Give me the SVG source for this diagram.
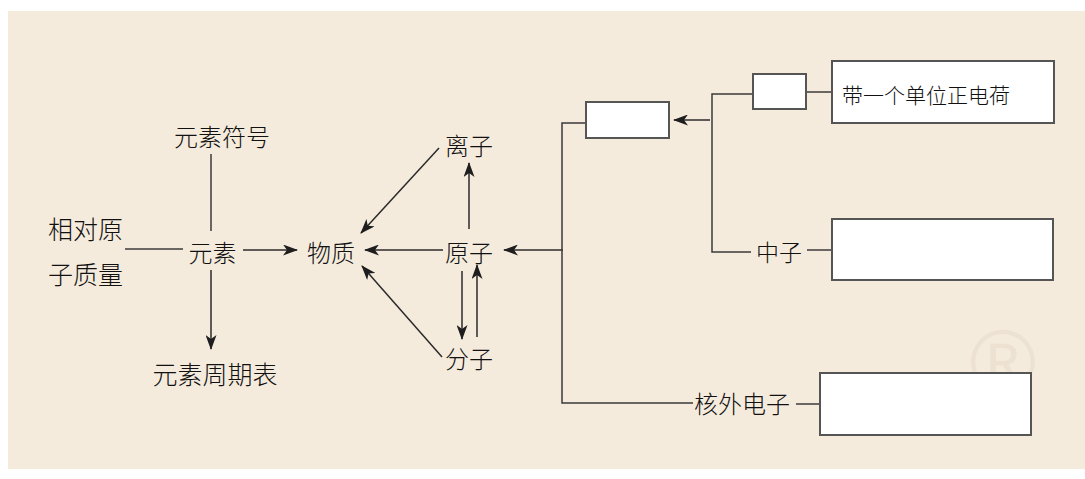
<svg xmlns="http://www.w3.org/2000/svg" width="1085" height="479" viewBox="0 0 1085 479">
<defs>
<style>
.t{font-family:"Noto Sans CJK SC","Noto Sans CJK JP",sans-serif;font-size:24px;font-weight:300;fill:#111;dominant-baseline:central}
.m{text-anchor:middle}
.ln{stroke:#3a3a3a;stroke-width:1.5;fill:none}
.ar{stroke:#2a2a2a;stroke-width:1.5;fill:none;marker-end:url(#ah)}
.bx{fill:#ffffff;stroke:#555;stroke-width:2}
</style>
<marker id="ah" viewBox="0 0 15 11" refX="14" refY="5.5" markerWidth="15" markerHeight="11" markerUnits="userSpaceOnUse" orient="auto">
<path d="M0,0 L15,5.5 L0,11 L4,5.5 Z" fill="#1e1e1e"/>
</marker>
</defs>
<rect x="0" y="0" width="1085" height="479" fill="#ffffff"/>
<rect x="8" y="11" width="1077" height="458" fill="#f5ebdd"/>
<text x="1003" y="362" font-family="Liberation Sans, sans-serif" font-size="90" fill="#ede2d2" text-anchor="middle" dominant-baseline="central">®</text>

<g id="connectors">
<line class="ln" x1="211" y1="154" x2="211" y2="231"/>
<line class="ln" x1="125" y1="249" x2="183" y2="249"/>
<line class="ar" x1="243" y1="250" x2="297" y2="250"/>
<line class="ar" x1="211" y1="270" x2="211" y2="349"/>
<line class="ar" x1="443" y1="250" x2="365" y2="250"/>
<line class="ar" x1="469" y1="229" x2="469" y2="163"/>
<line class="ar" x1="439" y1="148" x2="361" y2="233"/>
<line class="ar" x1="442" y1="357" x2="362" y2="266"/>
<line class="ar" x1="462" y1="271" x2="462" y2="339"/>
<line class="ar" x1="477" y1="337" x2="477" y2="265"/>
<line class="ar" x1="563" y1="250" x2="504" y2="250"/>
<polyline class="ln" points="586,123 562,123 562,403 693,403"/>
<line class="ar" x1="710" y1="120" x2="674" y2="120"/>
<polyline class="ln" points="753,94 712,94 712,252 751,252"/>
<line class="ln" x1="806" y1="92" x2="832" y2="92"/>
<line class="ln" x1="807" y1="250" x2="832" y2="250"/>
<line class="ln" x1="796" y1="404" x2="820" y2="404"/>
</g>

<g id="n-yuansufuhao"><text class="t m" x="222" y="135">元素符号</text></g>
<g id="n-xiangdui"><text class="t" x="48" y="227.5" style="font-size:25px">相对原</text><text class="t" x="48" y="272.5" style="font-size:25px">子质量</text></g>
<g id="n-yuansu"><text class="t m" x="212.5" y="251">元素</text></g>
<g id="n-zhouqibiao"><text class="t m" x="215" y="373" style="font-size:25px">元素周期表</text></g>
<g id="n-wuzhi"><text class="t m" x="331" y="251">物质</text></g>
<g id="n-yuanzi"><text class="t m" x="469" y="251">原子</text></g>
<g id="n-lizi"><text class="t m" x="469" y="144">离子</text></g>
<g id="n-fenzi"><text class="t m" x="469" y="357">分子</text></g>
<g id="n-box1"><rect class="bx" x="586" y="102" width="83" height="36"/></g>
<g id="n-box-small"><rect class="bx" x="753" y="74" width="53" height="35"/></g>
<g id="n-proton"><rect class="bx" x="832" y="61" width="222" height="62"/><text class="t" x="842" y="94" style="font-size:21px">带一个单位正电荷</text></g>
<g id="n-zhongzi"><text class="t m" x="779" y="251" style="font-size:23px">中子</text></g>
<g id="n-box-neutron"><rect class="bx" x="832" y="219" width="221" height="61"/></g>
<g id="n-dianzi"><text class="t" x="694" y="402">核外电子</text></g>
<g id="n-box-electron"><rect class="bx" x="820" y="373" width="211" height="62"/></g>
</svg>
